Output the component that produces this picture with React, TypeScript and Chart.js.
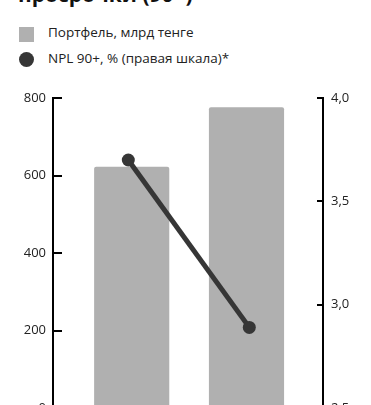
import React, { useEffect, useRef } from "react";
import { Chart, registerables } from "chart.js";

Chart.register(...registerables);

// Positions of the two reporting dates on the hidden x axes
const slots = [0, 1];
// Retail loan portfolio, bn tenge (left scale)
const portfolio = [622, 775];
// NPL 90+, % (right scale)
const npl = [3.7, 2.89];

const leftTicks = [0, 200, 400, 600, 800];
const rightTicks = [2.5, 3.0, 3.5, 4.0];

const FONT = "'Open Sans', 'Noto Sans', sans-serif";
const BAR_COLOR = "#b0b0b0";
const LINE_COLOR = "#363636";

// Short tick marks that point into the plot area
const inwardTicks = {
  id: "inwardTicks",
  afterDraw(chart: any) {
    const { ctx, chartArea } = chart;
    const y = chart.scales.y;
    const y1 = chart.scales.y1;
    ctx.save();
    ctx.strokeStyle = "#000";
    ctx.lineWidth = 2;
    ctx.beginPath();
    leftTicks.forEach((v) => {
      const py = Math.round(y.getPixelForValue(v));
      ctx.moveTo(chartArea.left, py);
      ctx.lineTo(chartArea.left + 9, py);
    });
    rightTicks.forEach((v) => {
      const py = Math.round(y1.getPixelForValue(v));
      ctx.moveTo(chartArea.right - 6, py);
      ctx.lineTo(chartArea.right, py);
    });
    ctx.stroke();
    ctx.restore();
  },
};

export default function App() {
  const ref = useRef<HTMLCanvasElement | null>(null);

  useEffect(() => {
    if (!ref.current) return;
    const chart = new Chart(ref.current, {
      type: "bar",
      data: {
        datasets: [
          {
            type: "line",
            label: "NPL 90+, % (правая шкала)*",
            data: slots.map((s, i) => ({ x: s, y: npl[i] })),
            xAxisID: "x2",
            yAxisID: "y1",
            borderColor: LINE_COLOR,
            backgroundColor: LINE_COLOR,
            borderWidth: 5,
            pointRadius: 6.5,
            pointBorderWidth: 0,
            pointBackgroundColor: LINE_COLOR,
            order: 0,
          } as any,
          {
            type: "bar",
            label: "Портфель, млрд тенге",
            data: slots.map((s, i) => ({ x: s, y: portfolio[i] })),
            xAxisID: "x",
            yAxisID: "y",
            grouped: false,
            backgroundColor: BAR_COLOR,
            barThickness: 74.5,
            borderRadius: { topLeft: 2, topRight: 2, bottomLeft: 0, bottomRight: 0 },
            borderSkipped: "bottom",
            order: 1,
          } as any,
        ],
      },
      options: {
        responsive: false,
        animation: false,
        layout: { padding: { top: 98, bottom: 22, left: 0, right: 0 } },
        plugins: {
          legend: { display: false },
          title: { display: false },
          tooltip: { enabled: false },
        },
        scales: {
          x: {
            type: "linear",
            display: false,
            offset: false,
            grid: { offset: false },
            min: -0.6855,
            max: 1.6664,
          },
          x2: {
            type: "linear",
            display: false,
            offset: false,
            grid: { offset: false },
            min: -0.6223,
            max: 1.609,
          },
          y: {
            type: "linear",
            position: "left",
            min: 0,
            max: 800,
            afterFit: (s: any) => {
              s.width = 53;
            },
            afterBuildTicks: (s: any) => {
              s.ticks = leftTicks.map((v) => ({ value: v }));
            },
            grid: { display: false, drawTicks: false },
            border: { display: true, color: "#000", width: 2 },
            ticks: {
              padding: 7,
              color: "#222",
              font: { family: FONT, size: 13 },
              callback: (v: any) => String(v),
            },
          },
          y1: {
            type: "linear",
            position: "right",
            min: 2.5,
            max: 4.0,
            afterFit: (s: any) => {
              s.width = 48;
            },
            afterBuildTicks: (s: any) => {
              s.ticks = rightTicks.map((v) => ({ value: v }));
            },
            grid: { display: false, drawTicks: false },
            border: { display: true, color: "#000", width: 2 },
            ticks: {
              padding: 8,
              color: "#222",
              font: { family: FONT, size: 13 },
              callback: (v: any) => Number(v).toFixed(1).replace(".", ","),
            },
          },
        },
      },
      plugins: [inwardTicks],
    });
    return () => chart.destroy();
  }, []);

  const legendText: React.CSSProperties = {
    position: "absolute",
    left: 48,
    fontFamily: FONT,
    fontSize: 13.5,
    lineHeight: "13px",
    color: "#222",
    whiteSpace: "nowrap",
  };

  return (
    <div
      style={{
        position: "fixed",
        left: 0,
        top: 0,
        width: 371,
        height: 405,
        overflow: "hidden",
        background: "#fff",
      }}
    >
      <div
        style={{
          position: "absolute",
          left: 18,
          top: -16,
          fontFamily: FONT,
          fontWeight: 700,
          fontSize: 21,
          lineHeight: "21px",
          color: "#111",
          whiteSpace: "nowrap",
        }}
      >
        просрочки (90+)
      </div>

      <div
        style={{
          position: "absolute",
          left: 19,
          top: 27,
          width: 15,
          height: 15,
          background: BAR_COLOR,
        }}
      />
      <div style={{ ...legendText, top: 26 }}>Портфель, млрд тенге</div>

      <div
        style={{
          position: "absolute",
          left: 19,
          top: 52,
          width: 15,
          height: 15,
          borderRadius: "50%",
          background: LINE_COLOR,
        }}
      />
      <div style={{ ...legendText, top: 52 }}>NPL 90+, % (правая шкала)*</div>

      <canvas
        ref={ref}
        width={371}
        height={430}
        style={{ position: "absolute", left: 0, top: 0, width: 371, height: 430 }}
      />
    </div>
  );
}
